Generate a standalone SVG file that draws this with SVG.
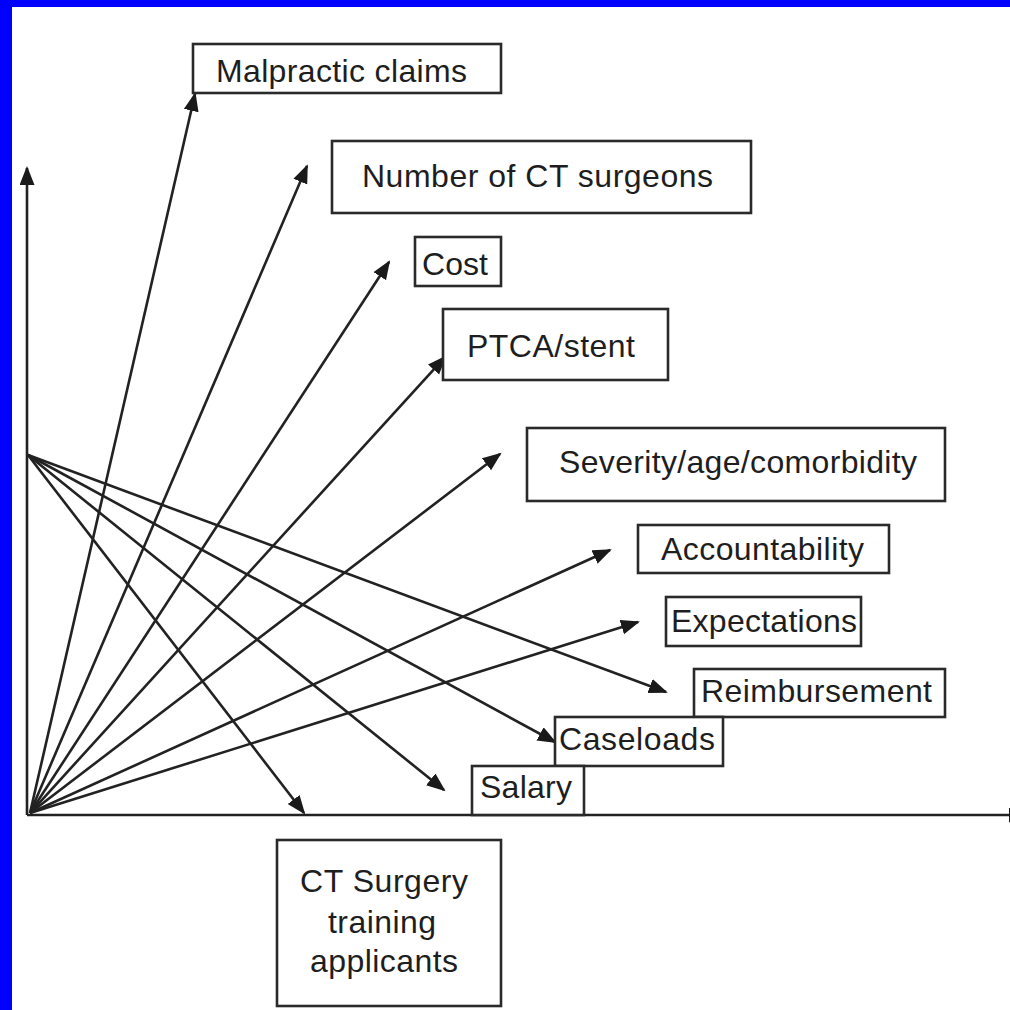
<svg xmlns="http://www.w3.org/2000/svg" width="1010" height="1010" viewBox="0 0 1010 1010">
<defs>
<style>
.box{fill:#fff;stroke:#2a2a2a;stroke-width:2.6}
.lbl{font-family:"Liberation Sans",Arial,sans-serif;font-size:32px;fill:#1e1e1e}
.ctr{text-anchor:middle}
.con{stroke:#222;stroke-width:2.6;fill:none}
.arr{marker-end:url(#ah)}
</style>
<marker id="ah" markerUnits="userSpaceOnUse" markerWidth="20" markerHeight="16" refX="17" refY="7.5" orient="auto">
<path d="M0,0 L19,7.5 L0,15 z" fill="#1a1a1a"/>
</marker>
</defs>
<rect x="0" y="0" width="1010" height="1010" fill="#fff"/>
<rect x="0" y="0" width="12" height="1010" fill="#0000ff"/>
<rect x="0" y="0" width="1010" height="7" fill="#0000ff"/>

<g id="connectors">
<line class="con arr" x1="27" y1="815" x2="27" y2="168"/>
<line class="con arr" x1="27" y1="815" x2="1026" y2="815"/>
<line class="con arr" x1="30" y1="813" x2="195" y2="94"/>
<line class="con arr" x1="30" y1="813" x2="307" y2="166"/>
<line class="con arr" x1="30" y1="813" x2="389" y2="262"/>
<line class="con arr" x1="30" y1="813" x2="445" y2="357"/>
<line class="con arr" x1="30" y1="813" x2="500" y2="454"/>
<line class="con arr" x1="30" y1="813" x2="610" y2="550"/>
<line class="con arr" x1="30" y1="813" x2="638" y2="622"/>
<line class="con arr" x1="28" y1="455" x2="666" y2="692"/>
<line class="con arr" x1="28" y1="455" x2="555" y2="742"/>
<line class="con arr" x1="28" y1="455" x2="444" y2="790"/>
<line class="con arr" x1="28" y1="455" x2="304" y2="813"/>
</g>

<g id="malpractic">
<rect class="box" x="193" y="44" width="308" height="49"/>
<text class="lbl" x="216" y="82" textLength="251">Malpractic claims</text>
</g>
<g id="surgeons">
<rect class="box" x="332" y="141" width="419" height="72"/>
<text class="lbl" x="362" y="187" textLength="351">Number of CT surgeons</text>
</g>
<g id="cost">
<rect class="box" x="415" y="237" width="86" height="49"/>
<text class="lbl" x="422" y="275" textLength="66">Cost</text>
</g>
<g id="ptca">
<rect class="box" x="443" y="309" width="225" height="71"/>
<text class="lbl" x="467" y="357" textLength="168">PTCA/stent</text>
</g>
<g id="severity">
<rect class="box" x="527" y="428" width="418" height="73"/>
<text class="lbl" x="559" y="473" textLength="358">Severity/age/comorbidity</text>
</g>
<g id="accountability">
<rect class="box" x="638" y="525" width="251" height="48"/>
<text class="lbl" x="661" y="560" textLength="203">Accountability</text>
</g>
<g id="expectations">
<rect class="box" x="666" y="597" width="195" height="49"/>
<text class="lbl" x="671" y="632" textLength="186">Expectations</text>
</g>
<g id="reimbursement">
<rect class="box" x="694" y="669" width="251" height="48"/>
<text class="lbl" x="701" y="702" textLength="231">Reimbursement</text>
</g>
<g id="caseloads">
<rect class="box" x="555" y="717" width="168" height="49"/>
<text class="lbl" x="559" y="750" textLength="156">Caseloads</text>
</g>
<g id="salary">
<rect class="box" x="472" y="766" width="112" height="49"/>
<text class="lbl" x="480" y="798" textLength="92">Salary</text>
</g>
<g id="applicants">
<rect class="box" x="277" y="840" width="224" height="166"/>
<text class="lbl ctr" x="384" y="892" textLength="168">CT Surgery</text>
<text class="lbl ctr" x="382" y="933" textLength="108">training</text>
<text class="lbl ctr" x="384" y="972" textLength="148">applicants</text>
</g>
</svg>
